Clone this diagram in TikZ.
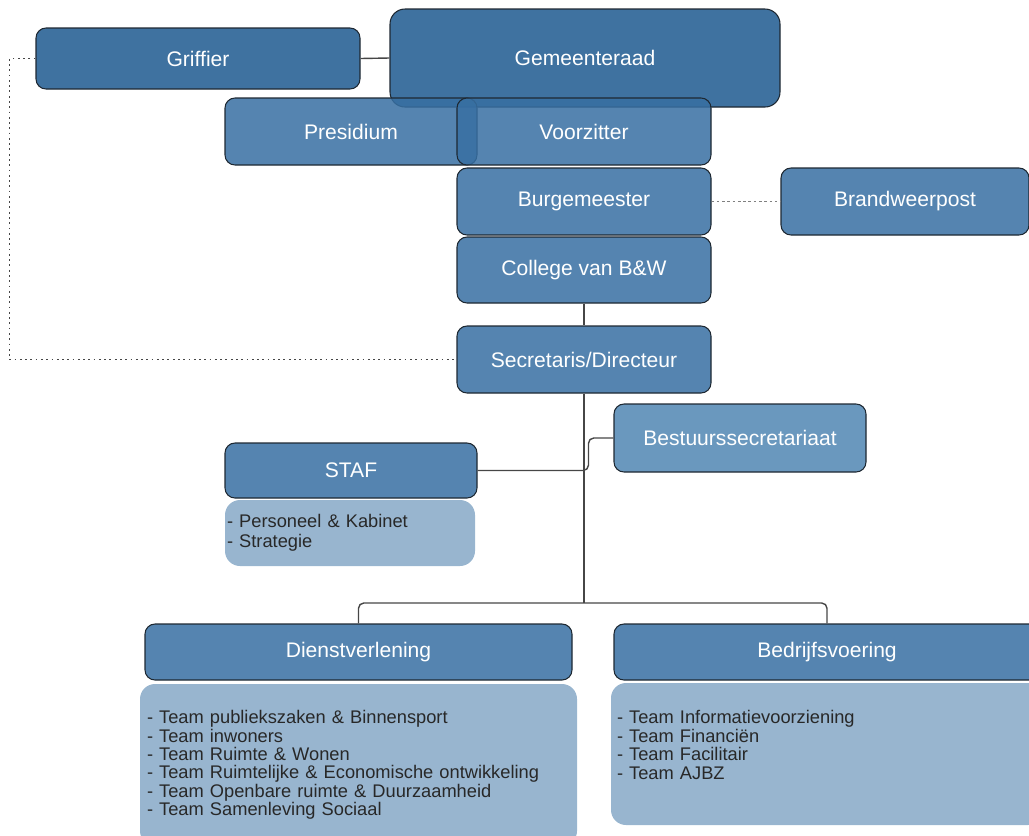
\documentclass[tikz,border=0pt]{standalone}
\usepackage{fontspec}
\setmainfont{Liberation Sans}
\usepackage{tikz}

\definecolor{raadblue}{RGB}{29,89,143}
\definecolor{boxblue}{RGB}{55,111,162}
\definecolor{lightblue}{RGB}{80,134,179}
\definecolor{listblue}{RGB}{152,181,207}
\definecolor{edgegray}{RGB}{30,40,50}
\definecolor{linegray}{RGB}{70,70,70}
\definecolor{listtext}{RGB}{40,40,40}

\tikzset{
  unit/.style={draw=edgegray, line width=0.6pt, fill=boxblue, fill opacity=0.85,
    text opacity=1, text=white, rounded corners=0.2cm, inner sep=0pt,
    minimum width=5.08cm, minimum height=1.34cm, font=\fontsize{12}{14}\selectfont},
  dark/.style={fill=raadblue},
  light/.style={fill=lightblue},
  teamlist/.style={fill=listblue, text=listtext, rounded corners=0.3cm, align=left,
    inner ysep=0pt, font=\fontsize{10.4}{10.5}\selectfont},
  conn/.style={draw=linegray, line width=0.8pt},
}

\begin{document}
\begin{tikzpicture}
\useasboundingbox (0,0) rectangle (20.58,-16.7);

\node[unit, dark, minimum width=7.8cm, minimum height=1.96cm, rounded corners=0.3cm] (raad) at (11.7,-1.16) {Gemeenteraad};
\node[unit, dark, minimum width=6.48cm, minimum height=1.22cm] (griffier) at (3.96,-1.17) {Griffier};
\node[unit, minimum width=5.04cm] (presidium) at (7.02,-2.63) {Presidium};
\node[unit] (voorzitter) at (11.68,-2.63) {Voorzitter};
\node[unit] (burgemeester) at (11.68,-4.03) {Burgemeester};
\node[unit, minimum width=4.96cm] (brandweer) at (18.1,-4.03) {Brandweerpost};
\node[unit, minimum height=1.32cm] (college) at (11.68,-5.4) {College van B\&W};
\node[unit] (secr) at (11.68,-7.19) {Secretaris/Directeur};
\node[unit, light, minimum width=5.04cm, minimum height=1.36cm] (bestuur) at (14.8,-8.76) {Bestuurssecretariaat};

\node[unit, minimum width=5.04cm, minimum height=1.1cm] (staf) at (7.02,-9.41) {STAF};
\node[teamlist, minimum height=1.32cm, inner xsep=0.04cm, text width=4.92cm,
  font=\fontsize{10.4}{11.3}\selectfont] (staflist) at (7.0,-10.66)
  {- Personeel \& Kabinet\\- Strategie};

\node[unit, minimum width=8.54cm, minimum height=1.12cm] (dienst) at (7.17,-13.04) {Dienstverlening};
\node[teamlist, minimum height=3.24cm, inner xsep=0.14cm, text width=8.46cm] (dienstlist) at (7.17,-15.3)
  {- Team publiekszaken \& Binnensport\\
   - Team inwoners\\
   - Team Ruimte \& Wonen\\
   - Team Ruimtelijke \& Economische ontwikkeling\\
   - Team Openbare ruimte \& Duurzaamheid\\
   - Team Samenleving Sociaal};

\node[unit, minimum width=8.52cm, minimum height=1.12cm] (bedrijf) at (16.54,-13.04) {Bedrijfsvoering};
\node[teamlist, minimum height=2.84cm, inner xsep=0.12cm, text width=8.4cm,
  font=\fontsize{10.4}{10.6}\selectfont] (bedrijflist) at (16.54,-15.08)
  {- Team Informatievoorziening\\
   - Team Financiën\\
   - Team Facilitair\\
   - Team AJBZ\\
   \mbox{}};

\coordinate (split) at (11.68,-12.06);

\draw[conn] (griffier.east) -- (raad.west);
\draw[draw=linegray, line width=1pt, dotted] (griffier.west) -- ++(-0.52,0) |- (secr.west);
\draw[draw=gray, line width=0.7pt, dash pattern=on 1.5pt off 1.5pt] (burgemeester.east) -- (brandweer.west);
\draw[conn] (college.south) -- (secr.north);
\draw[conn] (secr.south) -- (split);
\draw[conn, rounded corners=3pt] (dienst.north) |- (split) -| (bedrijf.north);
\draw[conn, rounded corners=3pt] (bestuur.west) -- ++(-0.5,0) |- (staf.east);
\end{tikzpicture}
\end{document}
